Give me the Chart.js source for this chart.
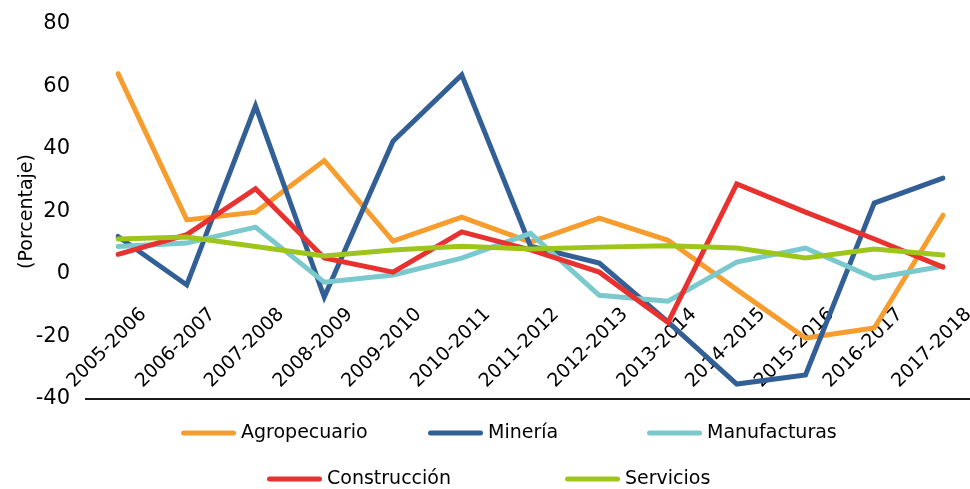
<!DOCTYPE html>
<html>
<head>
<meta charset="utf-8">
<script src="https://cdn.jsdelivr.net/npm/chart.js@4/dist/chart.umd.min.js"></script>
<style>
    html, body { margin: 0; padding: 0; background: #fff; }
    #reportSectores { width: 970px; height: 489px; position: relative; }
</style>
</head>
<body>
<div id="reportSectores"><canvas id="grafic-sectores"></canvas></div>
<script>
/* Data */
const periods = ['2005-2006', '2006-2007', '2007-2008', '2008-2009', '2009-2010', '2010-2011', '2011-2012',
    '2012-2013', '2013-2014', '2014-2015', '2015-2016', '2016-2017', '2017-2018'];
const agropecuario = [64.1, 17.3, 19.8, 36.3, 10.5, 18.2, 10.2, 17.9, 10.8, -5.0, -20.5, -17.3, 18.8];
const mineria = [12.0, -3.5, 53.8, -7.4, 42.5, 63.7, 8.9, 3.5, -15.3, -35.2, -32.3, 22.7, 30.7];
const manufacturas = [8.8, 9.9, 15.0, -2.6, -0.3, 5.1, 13.0, -6.8, -8.7, 3.8, 8.3, -1.3, 2.5];
const construccion = [6.3, 12.6, 27.3, 5.1, 0.6, 13.5, 7.7, 0.6, -15.5, 28.8, 19.8, 11.2, 2.2];
const servicios = [11.2, 11.8, 8.8, 5.8, 7.7, 8.9, 8.0, 8.6, 9.0, 8.3, 5.1, 8.0, 6.1];
const yTicks = [-40, -20, 0, 20, 40, 60, 80];

const colors = {
    agro: 'rgb(247, 157, 46)',
    mine: 'rgb(50, 96, 150)',
    manu: 'rgb(122, 201, 204)',
    cons: 'rgb(232, 50, 48)',
    serv: 'rgb(158, 198, 26)'
};

const fontName = '"DejaVu Sans", "Open Sans", sans-serif';

// x labels sit inside the plot, rotated, like the original Excel chart
const xLabelsPlugin = {
    id: 'xLabels',
    beforeDatasetsDraw(chart) {
        const ctx = chart.ctx;
        const xs = chart.scales.x;
        const area = chart.chartArea;
        ctx.save();
        // axis line
        ctx.strokeStyle = '#1a1a1a';
        ctx.lineWidth = 2;
        ctx.beginPath();
        ctx.moveTo(85, area.bottom);
        ctx.lineTo(970, area.bottom);
        ctx.stroke();

        ctx.font = '19px ' + fontName;
        ctx.fillStyle = '#000';
        ctx.textAlign = 'center';
        ctx.textBaseline = 'middle';
        chart.data.labels.forEach((label, i) => {
            ctx.save();
            ctx.translate(xs.getPixelForValue(i) - 11, area.bottom - 51);
            ctx.rotate(-Math.PI / 4);
            ctx.fillText(label, 0, 0);
            ctx.restore();
        });
        ctx.restore();
    }
};

const legendSpots = [[181, 433], [428, 433], [647, 433], [267, 479], [565, 479]];

const legendPlugin = {
    id: 'sectorLegend',
    afterDraw(chart) {
        const ctx = chart.ctx;
        ctx.save();
        ctx.font = '19px ' + fontName;
        ctx.textBaseline = 'middle';
        ctx.textAlign = 'left';
        chart.data.datasets.forEach((ds, i) => {
            const [x, y] = legendSpots[i];
            ctx.strokeStyle = ds.borderColor;
            ctx.lineWidth = 5;
            ctx.lineCap = 'round';
            ctx.beginPath();
            ctx.moveTo(x + 2.5, y);
            ctx.lineTo(x + 52.5, y);
            ctx.stroke();
            ctx.fillStyle = '#000';
            ctx.fillText(ds.label, x + 60, y);
        });
        ctx.restore();
    }
};

function makeSerie(label, values, color, order) {
    return {
        label: label,
        data: values,
        borderColor: color,
        backgroundColor: color,
        borderWidth: 5,
        pointRadius: 0,
        tension: 0,
        borderCapStyle: 'round',
        order: order
    };
}

const ctx = document.getElementById('grafic-sectores').getContext('2d');

const graficSectores = new Chart(ctx, {
    type: 'line',
    data: {
        labels: periods,
        datasets: [
            makeSerie('Agropecuario', agropecuario, colors.agro, 5),
            makeSerie('Minería', mineria, colors.mine, 4),
            makeSerie('Manufacturas', manufacturas, colors.manu, 3),
            makeSerie('Construcción', construccion, colors.cons, 2),
            makeSerie('Servicios', servicios, colors.serv, 1)
        ]
    },
    options: {
        responsive: true,
        maintainAspectRatio: false,
        animation: false,
        layout: {
            padding: { top: 24, right: 27, bottom: 90, left: 0 }
        },
        plugins: {
            legend: { display: false },
            tooltip: { enabled: false }
        },
        scales: {
            x: {
                type: 'category',
                display: false,
                offset: false
            },
            y: {
                min: -40,
                max: 80,
                grid: { display: false, drawTicks: false },
                border: { display: false },
                afterBuildTicks: function (scale) {
                    scale.ticks = yTicks.map(v => ({ value: v }));
                },
                afterFit: function (scale) {
                    scale.width = 118;
                    scale.paddingTop = 0;
                    scale.paddingBottom = 0;
                },
                ticks: {
                    padding: 48,
                    color: '#000',
                    font: { family: fontName, size: 21 }
                },
                title: {
                    display: true,
                    text: '(Porcentaje)',
                    color: '#000',
                    font: { family: fontName, size: 19 },
                    padding: { top: 16, bottom: 0 }
                }
            }
        }
    },
    plugins: [xLabelsPlugin, legendPlugin]
});
</script>
</body>
</html>
